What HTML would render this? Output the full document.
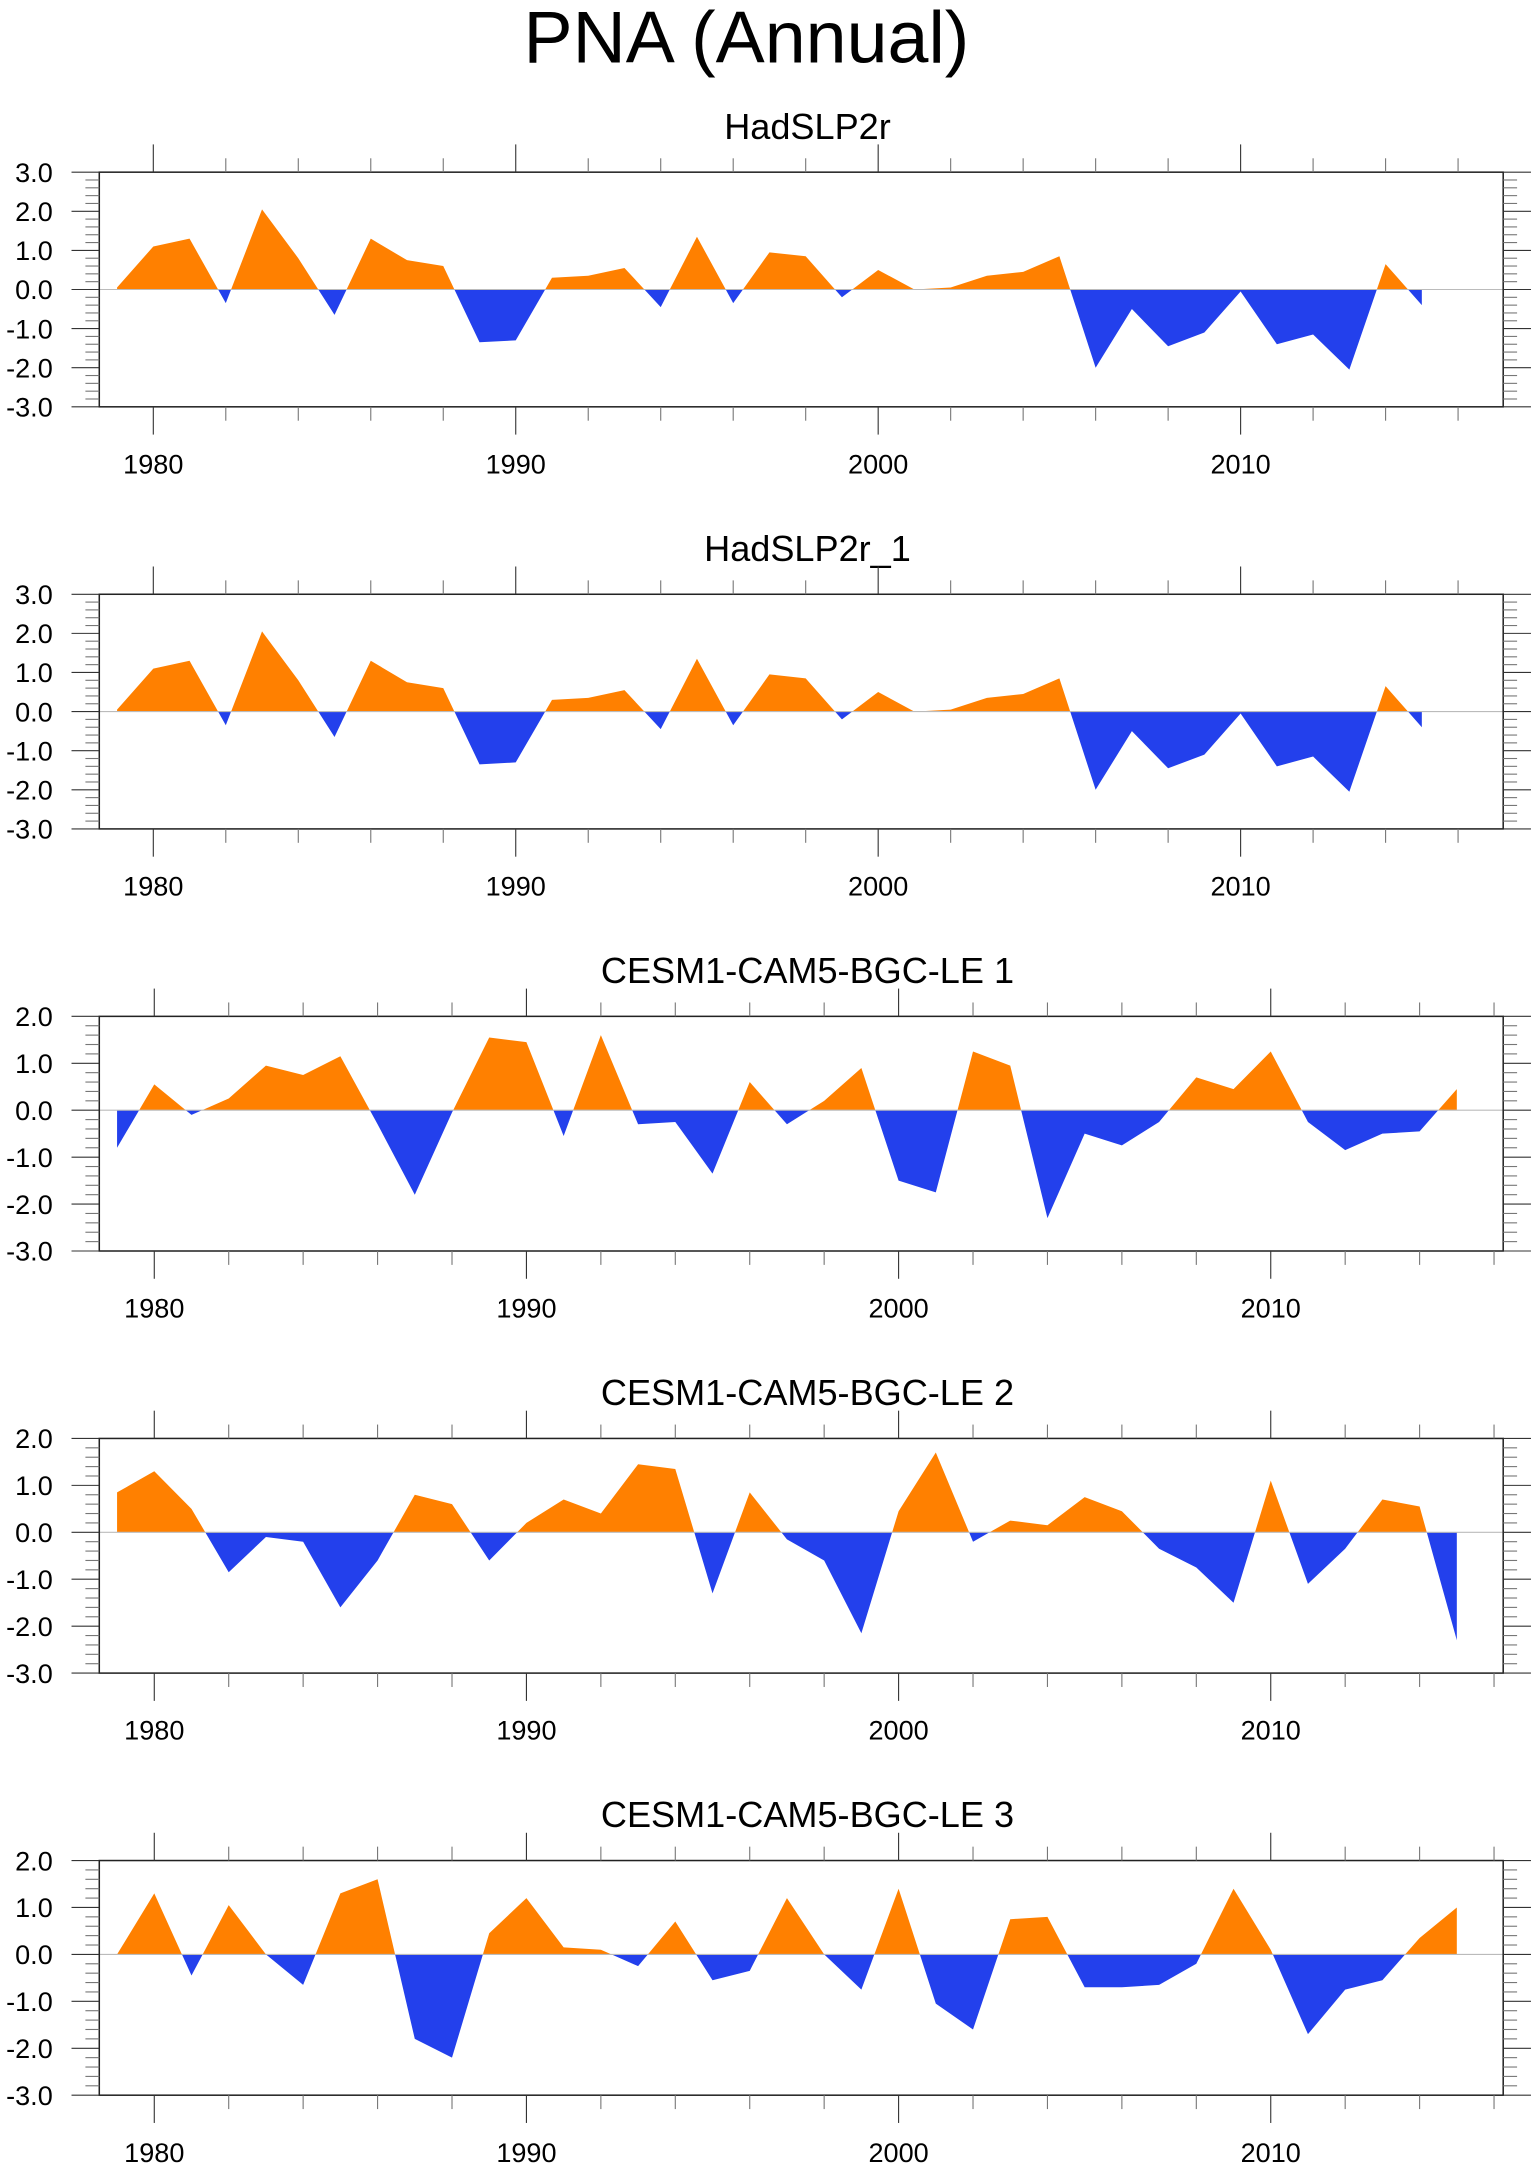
<!DOCTYPE html>
<html><head><meta charset="utf-8"><title>PNA (Annual)</title>
<style>html,body{margin:0;padding:0;background:#fff}svg{display:block}</style>
</head><body>
<svg id="chart" xmlns="http://www.w3.org/2000/svg" width="1540" height="2166" viewBox="0 0 1109 1560" preserveAspectRatio="none" font-family="'Liberation Sans', sans-serif">
<text x="537.5" y="45" font-size="53" text-anchor="middle">PNA (Annual)</text>
</svg>
<script>
const years = [];
for (let y = 1979; y <= 2015; y++) years.push(y);
const panelTitles = ["HadSLP2r", "HadSLP2r_1", "CESM1-CAM5-BGC-LE 1", "CESM1-CAM5-BGC-LE 2", "CESM1-CAM5-BGC-LE 3"];
const hadslp2r = [0.05,1.1,1.3,-0.35,2.05,0.8,-0.65,1.3,0.75,0.6,-1.35,-1.3,0.3,0.35,0.55,-0.45,1.35,-0.35,0.95,0.85,-0.2,0.5,0.0,0.05,0.35,0.45,0.85,-2.0,-0.5,-1.45,-1.1,-0.05,-1.4,-1.15,-2.05,0.65,-0.4];
const hadslp2r1 = [0.05,1.1,1.3,-0.35,2.05,0.8,-0.65,1.3,0.75,0.6,-1.35,-1.3,0.3,0.35,0.55,-0.45,1.35,-0.35,0.95,0.85,-0.2,0.5,0.0,0.05,0.35,0.45,0.85,-2.0,-0.5,-1.45,-1.1,-0.05,-1.4,-1.15,-2.05,0.65,-0.4];
const cesm1 = [-0.8,0.55,-0.1,0.25,0.95,0.75,1.15,-0.3,-1.8,-0.05,1.55,1.45,-0.55,1.6,-0.3,-0.25,-1.35,0.6,-0.3,0.2,0.9,-1.5,-1.75,1.25,0.95,-2.3,-0.5,-0.75,-0.25,0.7,0.45,1.25,-0.25,-0.85,-0.5,-0.45,0.45];
const cesm2 = [0.85,1.3,0.5,-0.85,-0.1,-0.2,-1.6,-0.6,0.8,0.6,-0.6,0.2,0.7,0.4,1.45,1.35,-1.3,0.85,-0.15,-0.6,-2.15,0.45,1.7,-0.2,0.25,0.15,0.75,0.45,-0.35,-0.75,-1.5,1.1,-1.1,-0.35,0.7,0.55,-2.3];
const cesm3 = [0.0,1.3,-0.45,1.05,0.0,-0.65,1.3,1.6,-1.8,-2.2,0.45,1.2,0.15,0.1,-0.25,0.7,-0.55,-0.35,1.2,0.0,-0.75,1.4,-1.05,-1.6,0.75,0.8,-0.7,-0.7,-0.65,-0.2,1.4,0.1,-1.7,-0.75,-0.55,0.35,1.0];
const yMaxes = [3, 3, 2, 2, 2];
const yMin = -3;
const xTickYears = [1980, 1990, 2000, 2010];
const seriesList = [hadslp2r, hadslp2r1, cesm1, cesm2, cesm3];

const NS = "http://www.w3.org/2000/svg";
const svg = document.getElementById("chart");
function mk(tag, attrs, parent) {
  const e = document.createElementNS(NS, tag);
  for (const k in attrs) e.setAttribute(k, attrs[k]);
  (parent || svg).appendChild(e);
  return e;
}
const panelTops = [124, 428, 732, 1036, 1340];
const panelH = 169, L = 71.5, R = 1082.5;

seriesList.forEach((data, p) => {
  const top = panelTops[p], bot = top + panelH;
  const yMax = yMaxes[p];
  const ppy = p < 2 ? 26.1 : 26.8;
  const xs = yr => 84.3 + (yr - 1979) * ppy;
  const ys = v => bot - (v - yMin) / (yMax - yMin) * panelH;
  const g = mk("g", {});
  
  

  const t = mk("text", {x: 581.5, y: top - 24, "font-size": 26, "text-anchor": "middle"}, g);
  t.textContent = panelTitles[p];
  
  

  const z = ys(0);
  const cidA = "ca" + p, cidB = "cb" + p;
  const defs = mk("defs", {}, g);
  const ca = mk("clipPath", {id: cidA}, defs);
  mk("rect", {x: L, y: top, width: R - L, height: z - top}, ca);
  const cb = mk("clipPath", {id: cidB}, defs);
  mk("rect", {x: L, y: z, width: R - L, height: bot - z}, cb);
  let d = "M" + xs(years[0]) + "," + z;
  data.forEach((v, i) => { d += " L" + xs(years[i]).toFixed(2) + "," + ys(v).toFixed(2); });
  d += " L" + xs(years[data.length - 1]) + "," + z + " Z";
  const pos = mk("path", {d: d, fill: "#ff8000", "clip-path": "url(#" + cidA + ")"}, g);
  
  
  const neg = mk("path", {d: d, fill: "#2340ec", "clip-path": "url(#" + cidB + ")"}, g);
  
  
  const zl = mk("line", {x1: L, x2: R, y1: z, y2: z, stroke: "#bbb", "stroke-width": 0.8}, g);
  
  

  const box = mk("rect", {x: L, y: top, width: R - L, height: panelH, fill: "none", stroke: "#222", "stroke-width": 1.1}, g);
  
  

  for (let k = 0; k <= (yMax - yMin) * 5; k++) {
    const v = yMin + k * 0.2;
    const yy = ys(v);
    const major = k % 5 === 0;
    const len = major ? 20 : 10;
    const col = major ? "#333" : "#777";
    mk("line", {x1: L - len, x2: L, y1: yy, y2: yy, stroke: col, "stroke-width": 0.8}, g);
    mk("line", {x1: R, x2: R + len, y1: yy, y2: yy, stroke: col, "stroke-width": 0.8}, g);
    if (major) {
      const lb = mk("text", {x: 38, y: yy + 7, "font-size": 19.5, "text-anchor": "end"}, g);
      lb.textContent = v.toFixed(1);
      
      
    }
  }
  for (let yr = 1978; yr <= 2018; yr += 2) {
    const xx = xs(yr);
    if (xx < L || xx > R) continue;
    const major = yr % 10 === 0;
    const len = major ? 20 : 10;
    const col = major ? "#333" : "#777";
    mk("line", {x1: xx, x2: xx, y1: top - len, y2: top, stroke: col, "stroke-width": 0.8}, g);
    mk("line", {x1: xx, x2: xx, y1: bot, y2: bot + len, stroke: col, "stroke-width": 0.8}, g);
  }
  xTickYears.forEach(yr => {
    const lb = mk("text", {x: xs(yr), y: bot + 48, "font-size": 19.5, "text-anchor": "middle"}, g);
    lb.textContent = yr;
    
    
  });
});
</script>
</body></html>
